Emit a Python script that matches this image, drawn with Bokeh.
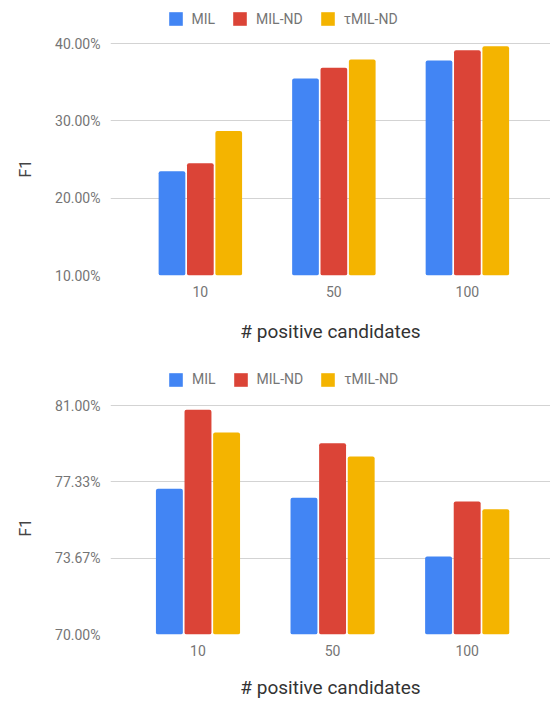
from bokeh.plotting import figure
from bokeh.models import (Range1d, FixedTicker, NumeralTickFormatter, Legend,
                          LegendItem, ColumnDataSource, Title)
from bokeh.layouts import column
from bokeh.transform import dodge
from bokeh.embed import file_html
from bokeh.resources import INLINE

# ---------------- data ----------------
categories = ["10", "50", "100"]
series_names = ["MIL", "MIL-ND", "τMIL-ND"]
series_colors = ["#4285F4", "#DB4437", "#F4B400"]

top_mil = [0.2349, 0.3547, 0.3780]
top_mil_nd = [0.2452, 0.3685, 0.3913]
top_tmil_nd = [0.2870, 0.3793, 0.3965]
top_ticks = [0.10, 0.20, 0.30, 0.40]

bottom_mil = [0.7700, 0.7657, 0.7375]
bottom_mil_nd = [0.8079, 0.7919, 0.7639]
bottom_tmil_nd = [0.7970, 0.7855, 0.7602]
bottom_ticks = [0.70, 0.70 + 0.11 / 3, 0.70 + 0.22 / 3, 0.81]

x_title = "# positive candidates"
y_title = "F1"

FONT = "Roboto"
TICK_COLOR = "#757575"
GRID_COLOR = "#d3d3d3"


def make_chart(series_values, ticks, height, min_left, min_bottom,
               x_start, x_end, y_end, legend_loc, ytitle_offset,
               ytitle_standoff, xtitle_standoff):
    p = figure(width=550, height=height, output_backend="svg",
               toolbar_location=None, tools="",
               x_range=Range1d(x_start, x_end),
               y_range=Range1d(ticks[0], y_end),
               min_border_left=min_left, min_border_right=0,
               min_border_top=0, min_border_bottom=min_bottom)
    p.outline_line_color = None
    p.background_fill_color = "white"
    p.border_fill_color = "white"

    idx = list(range(len(categories)))
    data = {"x": idx}
    for name, vals in zip(series_names, series_values):
        data[name] = vals
    src = ColumnDataSource(data)

    offsets = [-0.2125, 0.0, 0.2125]
    items = []
    for name, col, off in zip(series_names, series_colors, offsets):
        r = p.vbar(x=dodge("x", off), top=name, bottom=ticks[0], width=0.2,
                   source=src, fill_color=col, line_color=None,
                   border_radius=2)
        items.append(LegendItem(label=name, renderers=[r]))

    p.xgrid.grid_line_color = None
    p.ygrid.grid_line_color = GRID_COLOR
    p.ygrid.grid_line_width = 1

    xa = p.xaxis[0]
    xa.ticker = FixedTicker(ticks=idx)
    xa.major_label_overrides = {i: c for i, c in enumerate(categories)}
    xa.axis_line_color = None
    xa.major_tick_line_color = None
    xa.minor_tick_line_color = None
    xa.major_label_standoff = 4
    xa.major_label_text_font = FONT
    xa.major_label_text_font_size = "14px"
    xa.major_label_text_color = TICK_COLOR
    xa.axis_label = x_title
    xa.axis_label_text_font = FONT
    xa.axis_label_text_font_size = "19px"
    xa.axis_label_text_font_style = "normal"
    xa.axis_label_text_color = "#333333"
    xa.axis_label_standoff = xtitle_standoff

    ya = p.yaxis[0]
    ya.ticker = FixedTicker(ticks=ticks)
    ya.formatter = NumeralTickFormatter(format="0.00%")
    ya.axis_line_color = None
    ya.major_tick_line_color = None
    ya.minor_tick_line_color = None
    ya.major_label_standoff = 4
    ya.major_label_text_font = FONT
    ya.major_label_text_font_size = "14px"
    ya.major_label_text_color = TICK_COLOR

    p.add_layout(Title(text=y_title, align="left", offset=ytitle_offset,
                       vertical_align="top", standoff=ytitle_standoff,
                       text_font=FONT, text_font_size="16px",
                       text_font_style="normal", text_color="#444444"),
                 "left")

    legend = Legend(items=items, location=legend_loc, orientation="horizontal",
                    border_line_color=None, background_fill_alpha=0,
                    padding=0, margin=0, spacing=16,
                    label_standoff=8, glyph_width=17, glyph_height=17,
                    label_height=17, label_text_font=FONT,
                    label_text_font_size="14px", label_text_color=TICK_COLOR)
    p.add_layout(legend, "center")
    return p


p1 = make_chart([top_mil, top_mil_nd, top_tmil_nd], top_ticks,
                height=369, min_left=110, min_bottom=94,
                x_start=-0.673, x_end=2.6225,
                y_end=0.10 + 275 * 0.30 / 232,
                legend_loc=(56.5, 248), ytitle_offset=98,
                ytitle_standoff=31, xtitle_standoff=20)
p2 = make_chart([bottom_mil, bottom_mil_nd, bottom_tmil_nd], bottom_ticks,
                height=332, min_left=110, min_bottom=67,
                x_start=-0.650, x_end=2.619,
                y_end=0.70 + 265 * 0.11 / 229,
                legend_loc=(57, 246.5), ytitle_offset=98,
                ytitle_standoff=31, xtitle_standoff=17)

layout = column(p1, p2, spacing=0)

with open("out.html", "w") as f:
    f.write(file_html(layout, INLINE))
